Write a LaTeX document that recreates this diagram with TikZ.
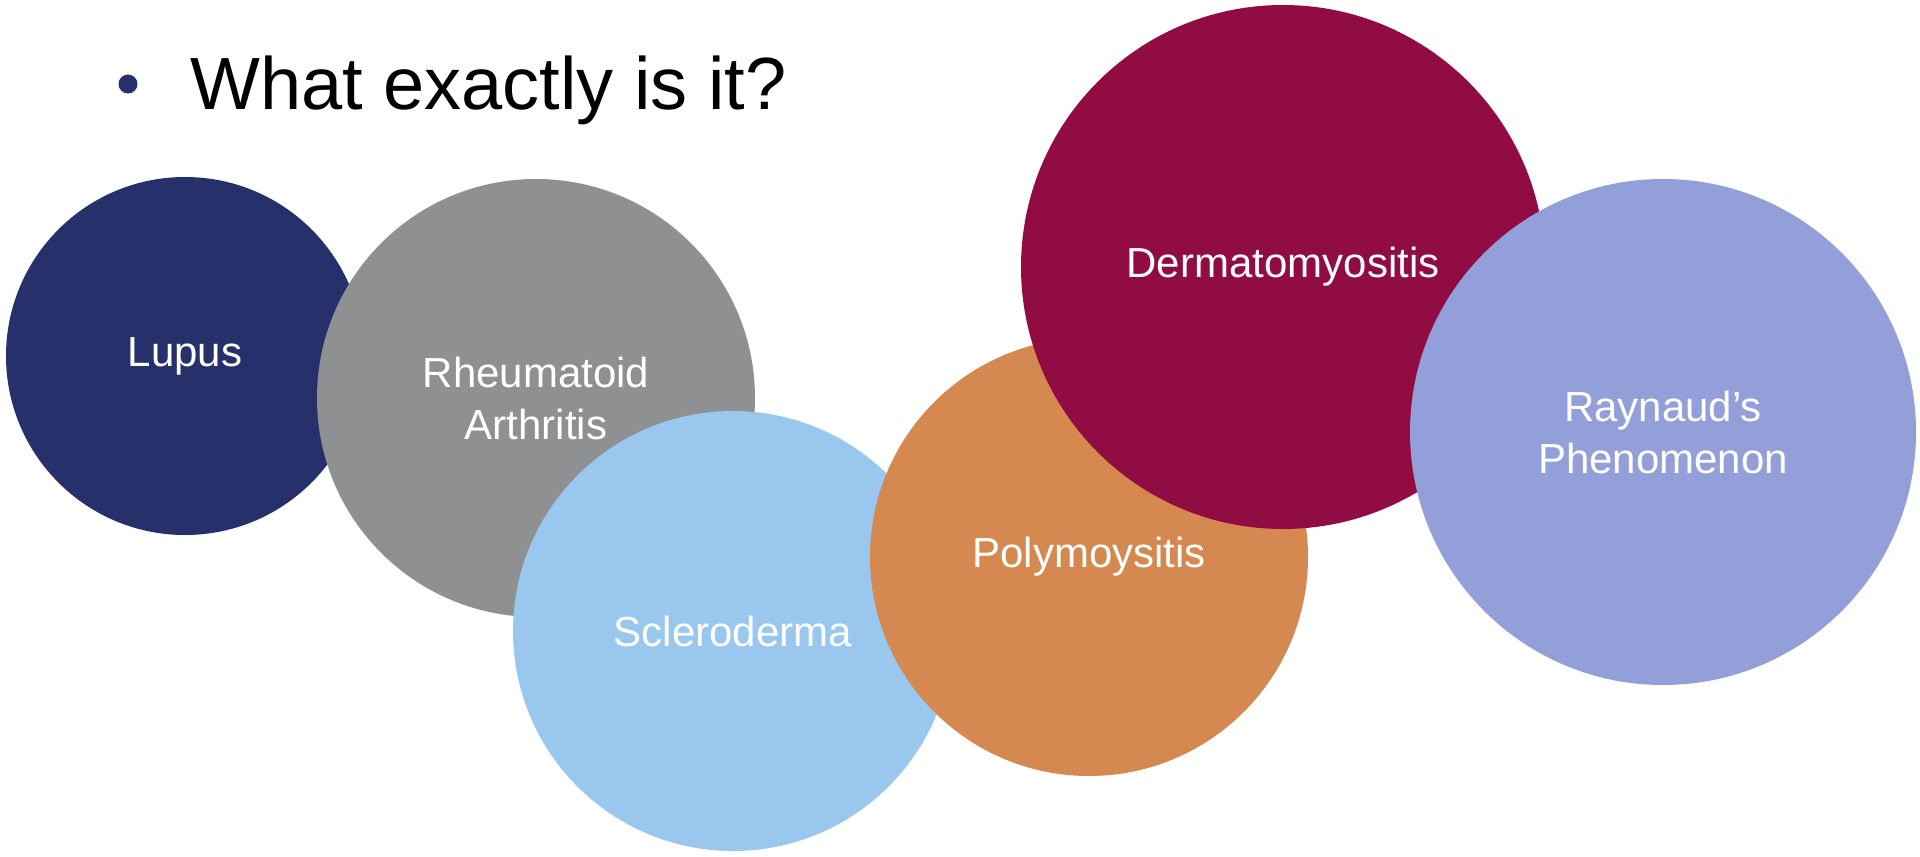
\documentclass[tikz,border=0pt]{standalone}
\usepackage{fontspec}
\setmainfont{Liberation Sans}
\usetikzlibrary{positioning}
\definecolor{lupusblue}{HTML}{26306A}
\definecolor{rheumgray}{HTML}{8F9092}
\definecolor{sclerblue}{HTML}{99C7EE}
\definecolor{polyorange}{HTML}{D58850}
\definecolor{dermred}{HTML}{910C42}
\definecolor{raynaudlilac}{HTML}{939FD9}

\begin{document}
\begin{tikzpicture}[x=0.5pt, y=-0.5pt,
    disc/.style={circle, inner sep=0pt, text=white, align=center,
        font=\fontsize{21}{26}\selectfont}]
        \useasboundingbox (0,0) rectangle (1920,856);
        % heading
        \node (dot) [circle, fill=lupusblue, inner sep=0pt, minimum size=9.5pt] at (128,84) {};
        \node (title) [anchor=base west, inner sep=0pt, font=\fontsize{37}{44}\selectfont] at (190,110) {What exactly is it?};

        % circles
        \node (lupus) [disc, fill=lupusblue, minimum size=179pt] at (185,356) {Lupus};
        \node (rheum) [disc, fill=rheumgray, minimum size=219pt] at (536,398) {Rheumatoid\\Arthritis};
        \node (sclero) [disc, fill=sclerblue, minimum size=220pt] at (733,631) {Scleroderma};
        \node (poly) [disc, fill=polyorange, minimum size=219pt] at (1089,557) {Polymoysitis};
        \node (derm) [disc, fill=dermred, minimum size=262pt] at (1283,267) {Dermatomyositis};
        \node (raynaud) [disc, fill=raynaudlilac, minimum size=253pt] at (1663,432) {Raynaud’s\\Phenomenon};
    \end{tikzpicture}
\end{document}
